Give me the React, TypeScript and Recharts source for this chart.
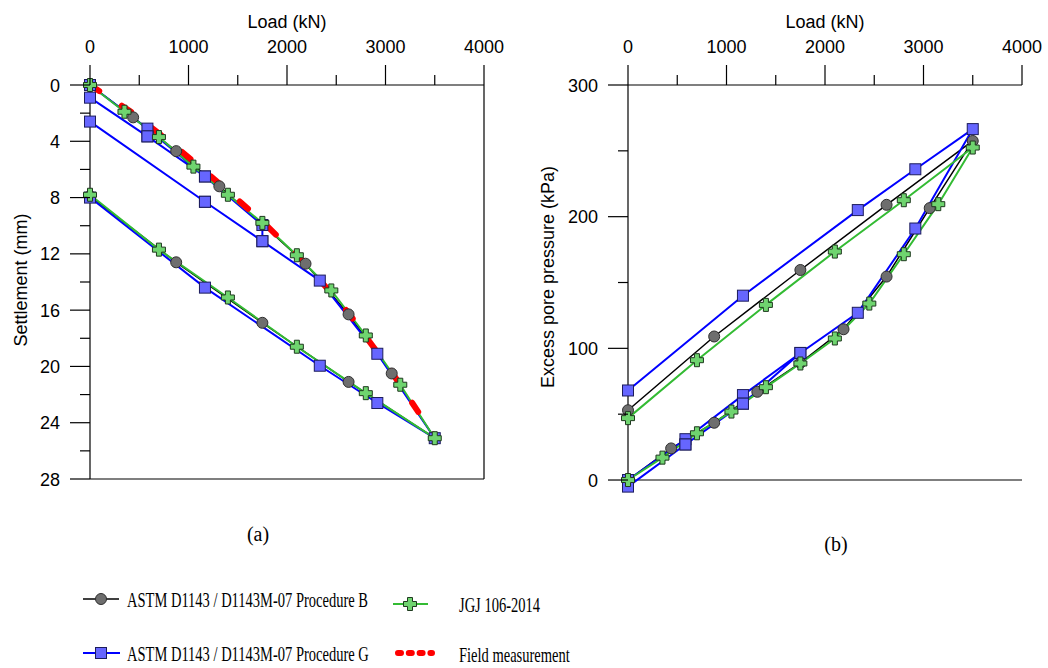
import React from "react";
import { LineChart, Line, XAxis, YAxis, ReferenceLine } from "recharts";

// ASTM D1143 Procedure B (load, then unload)
const bLoad = [0, 438, 875, 1313, 1750, 2188, 2625, 3063, 3500, 2625, 1750, 875, 0];
const bSettlement = [0, 2.3, 4.7, 7.2, 9.9, 12.7, 16.3, 20.5, 25.1, 21.1, 16.9, 12.6, 7.9];
const bPore = [0, 24, 43.5, 67, 89, 114.5, 154.5, 206.5, 257.5, 209, 159.5, 109, 53];

// JGJ 106-2014
const jLoad = [0, 350, 700, 1050, 1400, 1750, 2100, 2450, 2800, 3150, 3500, 2800, 2100, 1400, 700, 0];
const jSettlement = [0, 1.9, 3.7, 5.8, 7.8, 9.8, 12.1, 14.6, 17.8, 21.3, 25.1, 21.9, 18.6, 15.1, 11.7, 7.8];
const jPore = [0, 17, 35.5, 52, 70.5, 88.5, 107.5, 134, 171.5, 209.5, 252.5, 212.5, 173.5, 133, 91, 47];

// ASTM D1143 Procedure G (cyclic)
const gLoadS = [0, 583, 1167, 583, 0, 583, 1167, 1750, 1750, 1167, 0, 1167, 1750, 2333, 2917, 3500, 2917, 2333, 1167, 0];
const gSettlement = [0, 3.1, 6.5, 3.65, 0.9, 3.65, 6.5, 9.95, 11.1, 8.3, 2.6, 8.3, 11.1, 13.9, 19.1, 25.1, 22.6, 19.95, 14.4, 8.0];
const gLoadP = [0, 583, 1167, 1750, 1167, 583, 0, 583, 1167, 1750, 2333, 2917, 3500, 2917, 2333, 1167, 0];
const gPore = [0, 31, 64.5, 96.5, 58, 27, -5, 27, 58, 96.5, 127, 191, 266.5, 236, 205, 140, 68];

// Field measurement
const fieldLoad = [0, 438, 875, 1313, 1750, 2188, 2625, 3063, 3500];
const fieldSettlement = [0, 2.0, 4.4, 7.0, 9.7, 12.7, 16.2, 20.4, 25.0];

const loadTicks = [0, 500, 1000, 1500, 2000, 2500, 3000, 3500, 4000];
const settleTicks = [0, 2, 4, 6, 8, 10, 12, 14, 16, 18, 20, 22, 24, 26, 28];
const poreTicks = [0, 50, 100, 150, 200, 250, 300];

const zip = (xs: number[], ys: number[]) => xs.map((load, i) => ({ load, v: ys[i] }));

const SANS = "'Liberation Sans', Arial, sans-serif";
const SERIF = "'Liberation Serif', 'Times New Roman', serif";

const TopTick = (p: any) => {
  const axisY = p.y + 20;
  const major = p.payload.value % 1000 === 0;
  return (
    <g key={`t-${p.payload.value}`}>
      <line x1={p.x} x2={p.x} y1={axisY} y2={axisY - (major ? 20 : 10)} stroke="#000" strokeWidth={1.2} />
      {major && (
        <text x={p.x} y={axisY - 32} textAnchor="middle" fontSize={18} fontFamily={SANS} fill="#000">
          {p.payload.value}
        </text>
      )}
    </g>
  );
};

const leftTick = (step: number) => (p: any) => {
  const axisX = p.x + 20;
  const major = p.payload.value % step === 0;
  return (
    <g key={`l-${p.payload.value}`}>
      <line x1={axisX} x2={axisX - (major ? 20 : 10)} y1={p.y} y2={p.y} stroke="#000" strokeWidth={1.2} />
      {major && (
        <text x={axisX - 30} y={p.y + 6.5} textAnchor="end" fontSize={18} fontFamily={SANS} fill="#000">
          {p.payload.value}
        </text>
      )}
    </g>
  );
};

const circleDot = (p: any) =>
  p.cx == null ? <g key={`c-${p.index}`} /> : (
    <circle key={`c-${p.index}`} cx={p.cx} cy={p.cy} r={5.5} fill="#6e6e6e" stroke="#2e2e2e" strokeWidth={1} />
  );

const squareDot = (p: any) =>
  p.cx == null ? <g key={`s-${p.index}`} /> : (
    <rect key={`s-${p.index}`} x={p.cx - 5.5} y={p.cy - 5.5} width={11} height={11} fill="#6666ff" stroke="#1c1c5c" strokeWidth={1} />
  );

const crossPath = (cx: number, cy: number) => {
  const a = 6.5;
  const w = 2.5;
  return `M${cx - w},${cy - a}H${cx + w}V${cy - w}H${cx + a}V${cy + w}H${cx + w}V${cy + a}H${cx - w}V${cy + w}H${cx - a}V${cy - w}H${cx - w}Z`;
};

const crossDot = (p: any) =>
  p.cx == null ? <g key={`x-${p.index}`} /> : (
    <path key={`x-${p.index}`} d={crossPath(p.cx, p.cy)} fill="#6fd46f" stroke="#1f3a1f" strokeWidth={1} />
  );

const lineCommon = {
  type: "linear" as const,
  dataKey: "v",
  activeDot: false,
  isAnimationActive: false,
  legendType: "none" as const,
};

const poreMin = Math.min(...bPore, ...jPore, ...gPore);

// narrow serif legend text, as in the reference
const LegendText = ({ x, y, children }: { x: number; y: number; children: string }) => (
  <text transform={`translate(${x},${y}) scale(0.675,1)`} fontSize={21.5} fontFamily={SERIF} fill="#000">
    {children}
  </text>
);

export default function App() {
  return (
    <div style={{ position: "absolute", left: 0, top: 0, width: 1048, height: 668, background: "#fff" }}>
      <div style={{ position: "absolute", left: 0, top: 0 }}>
        <LineChart width={520} height={500} margin={{ top: 25, right: 36, bottom: 21, left: 30 }}>
          <XAxis
            type="number"
            dataKey="load"
            orientation="top"
            domain={[0, 4000]}
            ticks={loadTicks}
            interval={0}
            tick={TopTick}
            tickLine={false}
            tickSize={20}
            tickMargin={0}
            height={60}
            axisLine={{ stroke: "#000", strokeWidth: 1.2 }}
          />
          <YAxis
            type="number"
            domain={[0, 28]}
            reversed
            ticks={settleTicks}
            interval={0}
            tick={leftTick(4)}
            tickLine={false}
            tickSize={20}
            tickMargin={0}
            width={60}
            axisLine={{ stroke: "#000", strokeWidth: 1.2 }}
          />
          <ReferenceLine y={28} stroke="#000" strokeWidth={1.2} />
          <ReferenceLine x={4000} stroke="#000" strokeWidth={1.2} />
          <Line {...lineCommon} data={zip(bLoad, bSettlement)} stroke="#000" strokeWidth={1.5} dot={circleDot} />
          <Line {...lineCommon} data={zip(gLoadS, gSettlement)} stroke="#0000ff" strokeWidth={2} dot={squareDot} />
          <Line {...lineCommon} data={zip(jLoad, jSettlement)} stroke="#33bb33" strokeWidth={2} dot={crossDot} />
          <Line
            {...lineCommon}
            data={zip(fieldLoad, fieldSettlement)}
            stroke="#ff0000"
            strokeWidth={6}
            strokeDasharray="11 27"
            strokeLinecap="round"
            dot={false}
          />
        </LineChart>
      </div>

      <div style={{ position: "absolute", left: 540, top: 0 }}>
        <LineChart width={508} height={510} margin={{ top: 25, right: 26, bottom: 23.4, left: 28 }}>
          <XAxis
            type="number"
            dataKey="load"
            orientation="top"
            domain={[0, 4000]}
            ticks={loadTicks}
            interval={0}
            tick={TopTick}
            tickLine={false}
            tickSize={20}
            tickMargin={0}
            height={60}
            axisLine={{ stroke: "#000", strokeWidth: 1.2 }}
          />
          <YAxis
            type="number"
            domain={[poreMin, 300]}
            ticks={poreTicks}
            interval={0}
            tick={leftTick(100)}
            tickLine={false}
            tickSize={20}
            tickMargin={0}
            width={60}
            axisLine={{ stroke: "#000", strokeWidth: 1.2 }}
          />
          <ReferenceLine y={0} stroke="#000" strokeWidth={1.2} />
          <Line {...lineCommon} data={zip(bLoad, bPore)} stroke="#000" strokeWidth={1.5} dot={circleDot} />
          <Line {...lineCommon} data={zip(gLoadP, gPore)} stroke="#0000ff" strokeWidth={2} dot={squareDot} />
          <Line {...lineCommon} data={zip(jLoad, jPore)} stroke="#33bb33" strokeWidth={2} dot={crossDot} />
        </LineChart>
      </div>

      <svg width={1048} height={668} style={{ position: "absolute", left: 0, top: 0, pointerEvents: "none" }}>
        <text x={287} y={28} textAnchor="middle" fontSize={18} fontFamily={SANS}>Load (kN)</text>
        <text x={825} y={28} textAnchor="middle" fontSize={18} fontFamily={SANS}>Load (kN)</text>
        <text transform="translate(27,280) rotate(-90)" textAnchor="middle" fontSize={18} fontFamily={SANS}>
          Settlement (mm)
        </text>
        <text transform="translate(554,277) rotate(-90)" textAnchor="middle" fontSize={18} fontFamily={SANS}>
          Excess pore pressure (kPa)
        </text>
        <text x={258} y={541} textAnchor="middle" fontSize={20} fontFamily={SERIF}>(a)</text>
        <text x={836} y={551} textAnchor="middle" fontSize={20} fontFamily={SERIF}>(b)</text>

        <line x1={83} x2={119} y1={599} y2={599} stroke="#000" strokeWidth={1.5} />
        <circle cx={101} cy={599} r={5.5} fill="#6e6e6e" stroke="#2e2e2e" />
        <LegendText x={127} y={607}>ASTM D1143 / D1143M-07 Procedure B</LegendText>

        <line x1={393} x2={428} y1={604} y2={604} stroke="#33bb33" strokeWidth={2} />
        <path d={crossPath(410, 604)} fill="#6fd46f" stroke="#1f3a1f" />
        <LegendText x={459} y={612}>JGJ 106-2014</LegendText>

        <line x1={83} x2={120} y1={653} y2={653} stroke="#0000ff" strokeWidth={2} />
        <rect x={95.5} y={647.5} width={11} height={11} fill="#6666ff" stroke="#1c1c5c" />
        <LegendText x={127} y={661}>ASTM D1143 / D1143M-07 Procedure G</LegendText>

        <line x1={398} x2={432} y1={653} y2={653} stroke="#ff0000" strokeWidth={6} strokeDasharray="3 7.8" strokeLinecap="round" />
        <LegendText x={459} y={662}>Field measurement</LegendText>
      </svg>
    </div>
  );
}
